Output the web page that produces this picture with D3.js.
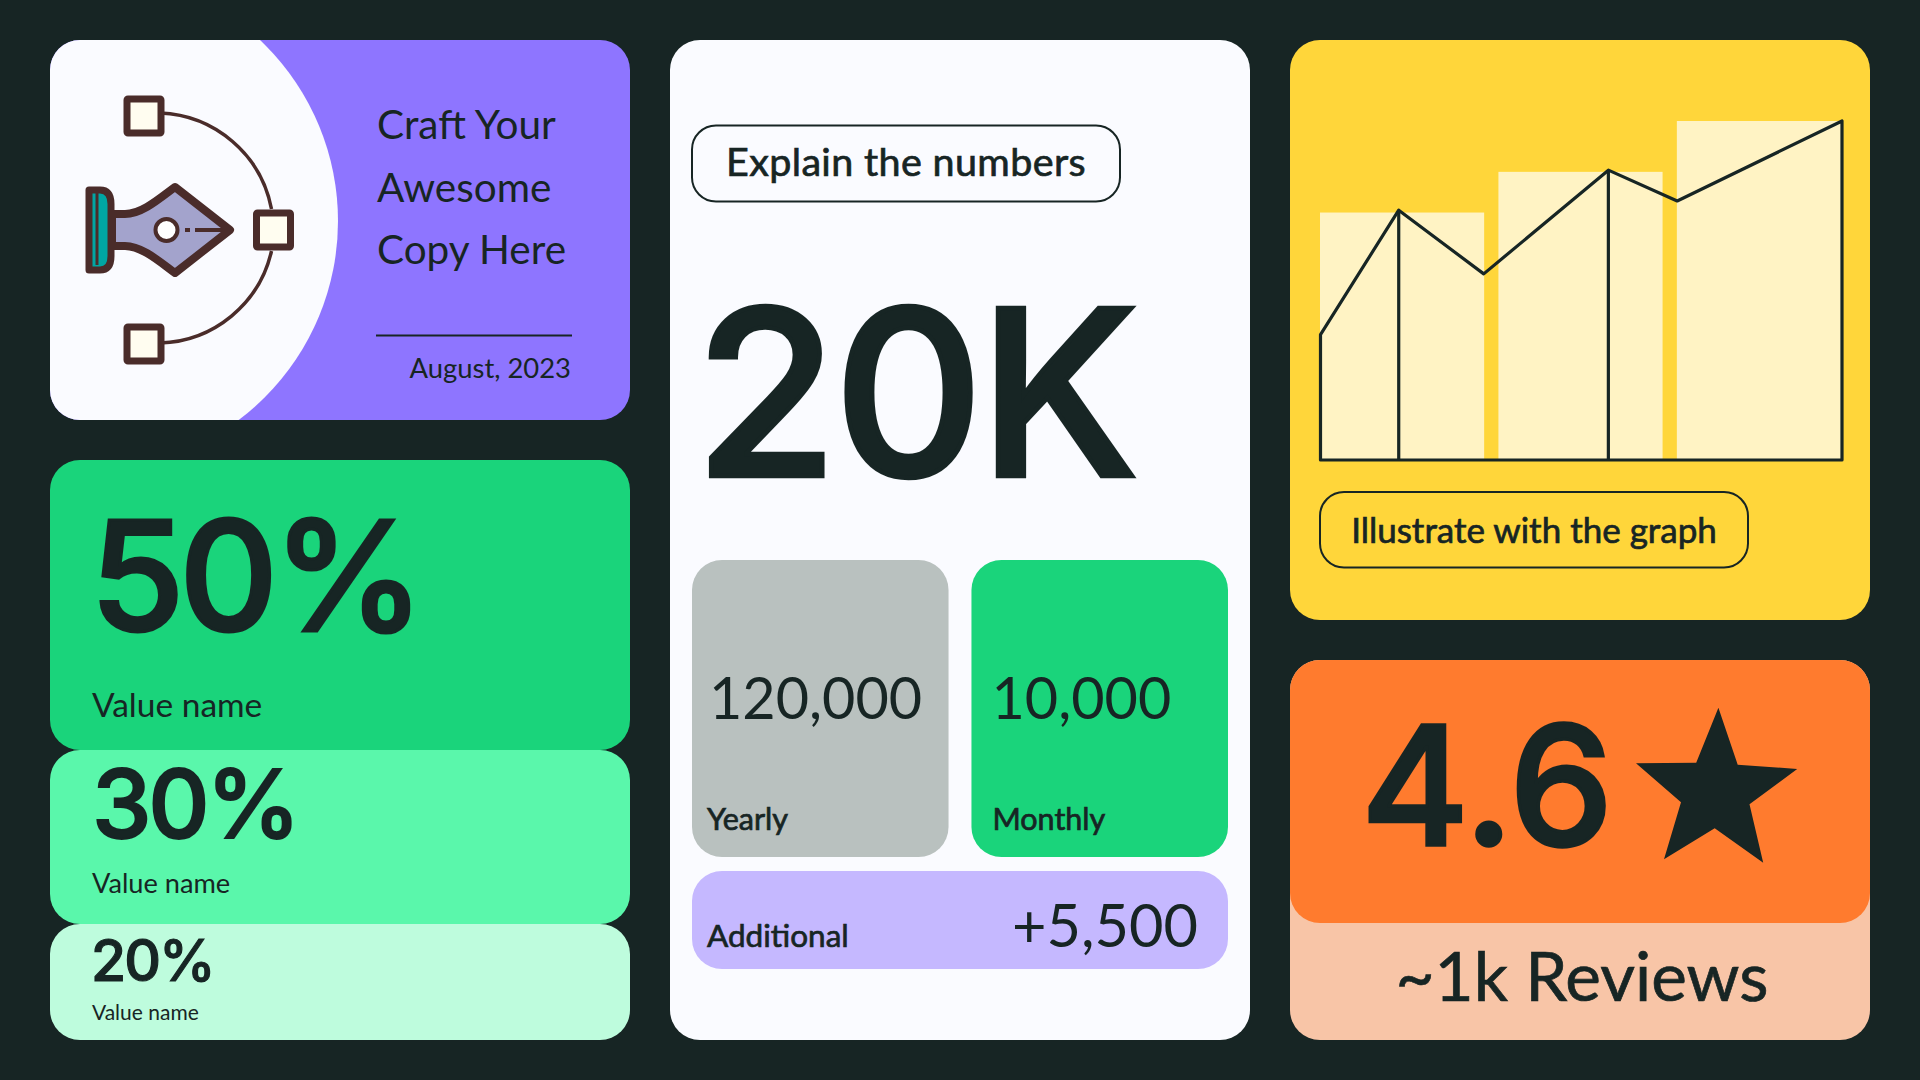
<!DOCTYPE html>
<html>
<head>
<meta charset="utf-8">
<script src="https://cdn.jsdelivr.net/npm/d3@7"></script>
<style>
  html, body { margin: 0; padding: 0; background: #172524; }
  svg { display: block; }
  text { font-family: Lato, "Noto Sans", sans-serif; fill: #172524; }
  text.big { font-family: Inter, Lato, sans-serif; stroke: #172524; letter-spacing: -0.035em; }
  text.med { stroke: #172524; stroke-width: 0.7px; }
</style>
</head>
<body>
<div id="vis"></div>
<script>
// values
var shareValues = [50, 30, 20];
var shareNames = ["Value name", "Value name", "Value name"];
var headlineValue = 20000;
var statLabels = ["Yearly", "Monthly"];
var statValues = [120000, 10000];
var additionalLabel = "Additional";
var additionalValue = 5500;
var titleLines = ["Craft Your", "Awesome", "Copy Here"];
var dateLabel = "August, 2023";
var barNames = ["a", "b", "c"];
var barValues = [73, 85, 100];
var lineX = [0, 15, 31.3, 55.2, 68.4, 100];
var lineY = [37, 73.7, 54.9, 85.5, 76.4, 100];
var dropIndex = [1, 3];
var rating = 4.6;
var reviewsLabel = "~1k Reviews";

var w = 1920;
var h = 1080;
var dark = "#172524";

var svg = d3.select("#vis").append("svg").attr("width", w).attr("height", h);
svg.append("rect").attr("width", w).attr("height", h).attr("fill", dark);

function card(x, y, width, height, fill, r) {
  return svg.append("rect").attr("x", x).attr("y", y).attr("width", width).attr("height", height)
    .attr("rx", r === undefined ? 30 : r).attr("fill", fill);
}
function label(str, x, y, size, cls, anchor) {
  var t = svg.append("text").attr("class", cls || null).attr("x", x).attr("y", y).attr("font-size", size)
    .attr("font-weight", cls === "big" ? 500 : 400).attr("text-anchor", anchor || "start").text(str);
  // the big figures are heavier than the installed medium
  if (cls === "big") t.attr("stroke-width", size * 0.02);
  return t;
}

// ---- title card
card(50, 40, 580, 380, "#8E75FF");
svg.append("clipPath").attr("id", "titleClip").append("rect")
  .attr("x", 50).attr("y", 40).attr("width", 580).attr("height", 380).attr("rx", 30);
svg.append("circle").attr("cx", 89).attr("cy", 221).attr("r", 249)
  .attr("fill", "#FAFBFF").attr("clip-path", "url(#titleClip)");

var brown = "#4A2C2A";
var icon = svg.append("g");
icon.append("path").attr("d", "M160,113 A118,118 0 0 1 271.5,209 M271.5,251 A118,118 0 0 1 160,343")
  .attr("fill", "none").attr("stroke", brown).attr("stroke-width", 3.5);
// nib
icon.append("path")
  .attr("d", "M112,214 L125,214 C142,214 160,198 175,187 L230,230 L175,273 C160,262 142,246 125,246 L112,246 Z")
  .attr("fill", "#A3A3CC").attr("stroke", brown).attr("stroke-width", 8).attr("stroke-linejoin", "round");
icon.append("path").attr("d", "M89,190 L100,190 Q111,190 111,204 L111,256 Q111,270 100,270 L89,270 Z")
  .attr("fill", "#00A6A3").attr("stroke", brown).attr("stroke-width", 7).attr("stroke-linejoin", "round");
icon.append("line").attr("x1", 97).attr("x2", 97).attr("y1", 193).attr("y2", 265)
  .attr("stroke", brown).attr("stroke-width", 3);
icon.append("circle").attr("cx", 166.5).attr("cy", 230).attr("r", 11)
  .attr("fill", "#FFFFFF").attr("stroke", brown).attr("stroke-width", 4);
icon.append("path").attr("d", "M185,230 H190 M195,230 H232")
  .attr("stroke", brown).attr("stroke-width", 4);
[[144, 116], [273.5, 230], [144, 344]].forEach(function (p) {
  icon.append("rect").attr("x", p[0] - 17).attr("y", p[1] - 17).attr("width", 34).attr("height", 34)
    .attr("rx", 1).attr("fill", "#FFFDF0").attr("stroke", brown).attr("stroke-width", 7).attr("stroke-linejoin", "round");
});

titleLines.forEach(function (d, i) {
  label(d, 377, 139 + i * 62.5, 40.5);
});
svg.append("line").attr("x1", 376).attr("x2", 572).attr("y1", 335.5).attr("y2", 335.5)
  .attr("stroke", dark).attr("stroke-width", 2);
label(dateLabel, 571, 378, 27.4, null, "end");

// ---- stacked share cards, heights come from the values
var shareScale = d3.scaleLinear().domain([0, d3.sum(shareValues)]).range([0, 580]);
var shareFills = ["#1AD47B", "#5AF7AB", "#BEFCDD"];
var shareFont = [153, 95, 57];
var shareNameFont = [33.5, 27.2, 21];
var shareTop = [171, 87.5, 56.5];
var shareNameBase = [256.5, 143, 96];
var shareX = [90, 92, 91];
var yAt = 460;
shareValues.forEach(function (v, i) {
  var cardH = shareScale(v);
  card(50, yAt, 580, cardH, shareFills[i]);
  yAt += cardH;
});
yAt = 460;
shareValues.forEach(function (v, i) {
  label(v + "%", shareX[i], yAt + shareTop[i], shareFont[i], "big");
  label(shareNames[i], 92, yAt + shareNameBase[i], shareNameFont[i]);
  yAt += shareScale(v);
});

// ---- centre card
card(670, 40, 580, 1000, "#FAFBFF");
svg.append("rect").attr("x", 692).attr("y", 125.5).attr("width", 428).attr("height", 76).attr("rx", 24)
  .attr("fill", "none").attr("stroke", dark).attr("stroke-width", 2);
label("Explain the numbers", 906, 176, 39.5, "med", "middle").attr("letter-spacing", 0.35);
label(d3.format(".0s")(headlineValue).replace("k", "K"), 695, 475.5, 231, "big").style("letter-spacing", "-0.015em");

var statFills = ["#B9C1BF", "#1AD47B"];
var statX = d3.scaleBand().domain(statLabels).range([692, 1228]).paddingInner(0.082);
var fmt = d3.format(",");
statLabels.forEach(function (d, i) {
  card(statX(d), 560, statX.bandwidth(), 297, statFills[i]);
  label(fmt(statValues[i]), statX(d) + (i ? 20 : 17), 719, 57.5);
  label(d, statX(d) + (i ? 21 : 15), 830, 30.5, "med");
});
card(692, 871, 536, 98, "#C5B8FF");
label(additionalLabel, 707, 947, 31.5, "med");
label("+" + fmt(additionalValue), 1198, 947, 59.5, null, "end");

// ---- yellow graph card
card(1290, 40, 580, 580, "#FFD63A");
var graphX = d3.scaleLinear().domain([0, 100]).range([1320.5, 1842]);
var graphY = d3.scaleLinear().domain([0, 100]).range([460, 121]);
var barX = d3.scaleBand().domain(barNames).range([1320, 1841]).paddingInner(0.08);
svg.selectAll(".bar").data(barValues).enter().append("rect").attr("class", "bar")
  .attr("x", function (d, i) { return barX(barNames[i]); })
  .attr("y", function (d) { return graphY(d); })
  .attr("width", barX.bandwidth())
  .attr("height", function (d) { return graphY(0) - graphY(d); })
  .attr("fill", "#FFF3C4");
var linePoints = lineX.map(function (x, i) { return [x, lineY[i]]; });
var lineGen = d3.line().x(function (d) { return graphX(d[0]); }).y(function (d) { return graphY(d[1]); });
svg.append("path")
  .attr("d", lineGen([[0, 0]].concat(linePoints, [[100, 0]])) + "Z")
  .attr("fill", "none").attr("stroke", dark).attr("stroke-width", 3.2).attr("stroke-linejoin", "round");
dropIndex.forEach(function (i) {
  svg.append("line")
    .attr("x1", graphX(lineX[i])).attr("x2", graphX(lineX[i]))
    .attr("y1", graphY(lineY[i])).attr("y2", graphY(0))
    .attr("stroke", dark).attr("stroke-width", 3.2);
});
svg.append("rect").attr("x", 1320).attr("y", 492).attr("width", 428).attr("height", 75.5).attr("rx", 24)
  .attr("fill", "none").attr("stroke", dark).attr("stroke-width", 2);
label("Illustrate with the graph", 1534, 543, 35, "med", "middle");

// ---- rating card
card(1290, 660, 580, 380, "#F8C5A7");
card(1290, 660, 580, 263, "#FF7B2E");
label(d3.format(".1f")(rating), 1361, 845, 165, "big").style("letter-spacing", "0");
svg.append("path")
  .attr("d", "M1718.4,707.7 L1737.7,764.7 L1797.2,769 L1749.5,804.3 L1763.2,862.7 L1714.7,828.3 L1664,859.3 L1681,802.3 L1636,763.3 L1696.2,762.7 Z")
  .attr("fill", dark);
label(reviewsLabel, 1582, 1001, 67.5, "med", "middle");
</script>
</body>
</html>
